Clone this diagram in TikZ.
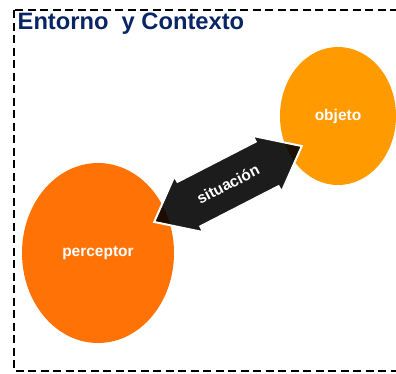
\documentclass[tikz,border=0pt]{standalone}
\usepackage{fontspec}
\setmainfont{Liberation Sans}
\definecolor{percOrange}{HTML}{FF7306}
\definecolor{objOrange}{HTML}{FF9A00}
\definecolor{titleBlue}{HTML}{0A2565}
\tikzset{
  blob/.style={ellipse, inner sep=0pt, draw=none},
  lbl/.style={text=white, font=\bfseries\fontsize{15.5}{18}\selectfont},
  frame/.style={draw=black, line width=1.6pt, dash pattern=on 8pt off 4.5pt},
  dblarrow/.style={fill=black, fill opacity=0.89, draw=white, line width=2pt, line join=miter},
}
\usetikzlibrary{shapes.geometric}
\begin{document}
\begin{tikzpicture}[x=1pt,y=1pt]
\useasboundingbox (0,0) rectangle (396,-373);
\clip (0,0) rectangle (396,-373);
\draw[frame] (14,-10) rectangle (420,-371);
\node[anchor=base west, text=titleBlue, font=\bfseries\fontsize{23.7}{26}\selectfont, inner sep=0pt] (title) at (17.5,-29.5) {Entorno\ \ y Contexto};
\node[blob, fill=percOrange, minimum width=152pt, minimum height=180pt] (perc) at (98,-253) {};
\node[blob, fill=objOrange, minimum width=116pt, minimum height=138pt] (obj) at (338,-116) {};
\node[lbl] (ptext) at (98,-253) {perceptor};
\node[lbl] (otext) at (338,-116) {objeto};
\begin{scope}[shift={(228,-184)}, rotate=27.2]
  \draw[dblarrow] (-83,0) -- (-44,31.5) -- (-44,25) -- (44,25) -- (44,31.5) -- (83,0)
    -- (44,-31.5) -- (44,-25) -- (-44,-25) -- (-44,-31.5) -- cycle;
\end{scope}
\node[lbl, rotate=27.2] (sit) at (228,-184) {situación};
\end{tikzpicture}
\end{document}
